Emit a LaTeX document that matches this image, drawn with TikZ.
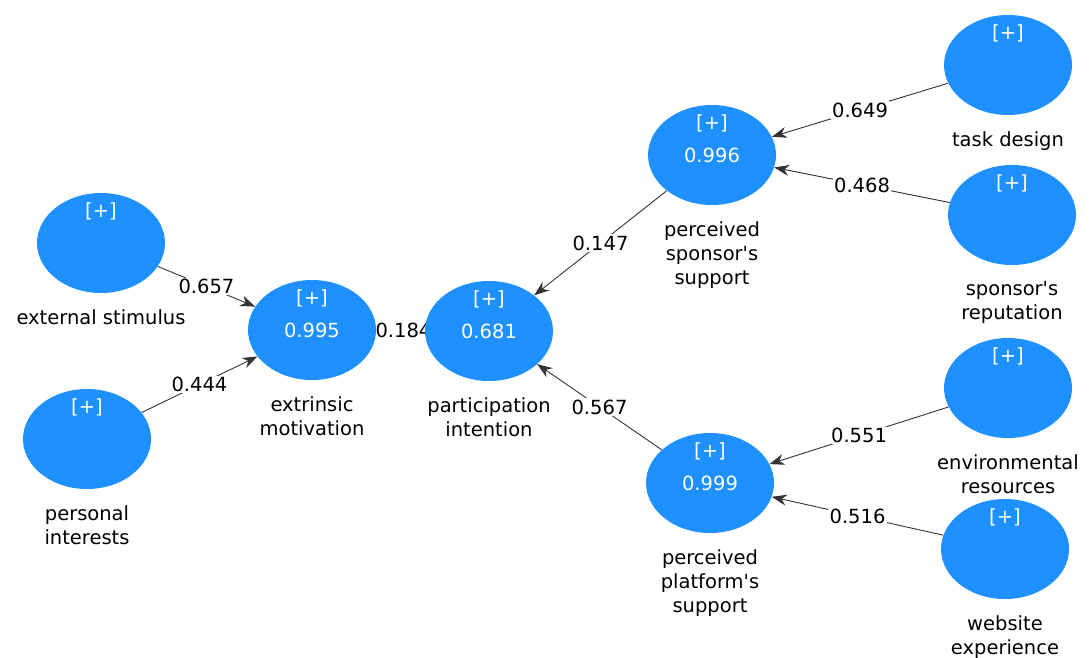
\documentclass[tikz,border=0pt]{standalone}
\usepackage{fontspec}
\setmainfont{DejaVu Sans}
\usetikzlibrary{shapes.geometric,arrows.meta,backgrounds}

\definecolor{lvblue}{RGB}{30,144,255}

\tikzset{
  lv/.style={ellipse, fill=lvblue, minimum width=128pt, minimum height=100pt,
    inner sep=0pt, text=white, label={[text=white, yshift=32pt]center:[+]}},
  lvname/.style={align=center, text=black, label distance=13pt},
  rel/.style={draw=black!80, line width=0.9pt, -{Stealth[length=15pt,width=11pt]}},
  coef/.style={fill=white, inner sep=1.5pt, text=black}
}
\newcommand{\apos}{\textquotesingle}

\begin{document}
\begin{tikzpicture}[x=1pt, y=-1pt, font=\fontsize{19.5}{24}\selectfont]
\useasboundingbox (0,0) rectangle (1092,657);

% Variables latentes
\node[lv, label={[lvname]below:external stimulus}] (es) at (101,243) {};
\node[lv, label={[lvname]below:personal\\interests}] (pi) at (87,439) {};
\node[lv, label={[lvname]below:extrinsic\\motivation}] (em) at (312,330) {0.995};
\node[lv, label={[lvname]below:participation\\intention}] (pin) at (489,331) {0.681};
\node[lv, label={[lvname]below:perceived\\sponsor\apos s\\support}] (pss) at (712,155) {0.996};
\node[lv, label={[lvname]below:perceived\\platform\apos s\\support}] (pps) at (710,483) {0.999};
\node[lv, label={[lvname]below:task design}] (td) at (1008,65) {};
\node[lv, label={[lvname]below:sponsor\apos s\\reputation}] (sr) at (1012,215) {};
\node[lv, label={[lvname]below:environmental\\resources}] (er) at (1008,388) {};
\node[lv, label={[lvname]below:website\\experience}] (we) at (1005,549) {};

% Coeficientes
\begin{pgfonlayer}{background}
  \foreach \a/\b/\w/\p in {es/em/0.657/0.5, pi/em/0.444/0.5, em/pin/0.184/0.56,
                           pss/pin/0.147/0.5, pps/pin/0.567/0.5,
                           td/pss/0.649/0.5, sr/pss/0.468/0.5,
                           er/pps/0.551/0.5, we/pps/0.516/0.5}
    \draw[rel] (\a) -- node[coef, pos=\p] {\w} (\b);
\end{pgfonlayer}
\end{tikzpicture}
\end{document}
